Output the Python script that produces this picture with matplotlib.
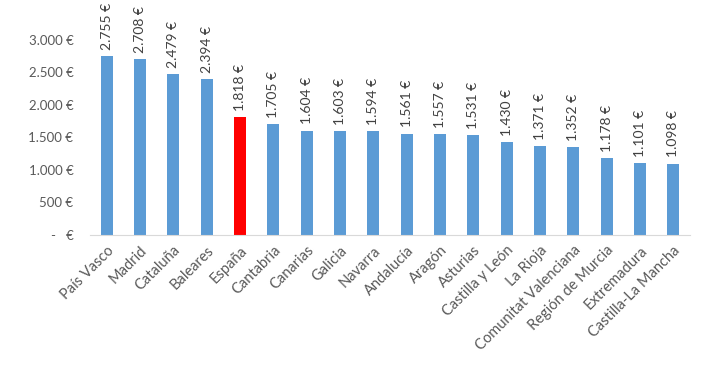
import matplotlib
matplotlib.use("Agg")
import matplotlib.pyplot as plt

regions = ["País Vasco", "Madrid", "Cataluña", "Baleares", "España", "Cantabria",
           "Canarias", "Galicia", "Navarra", "Andalucía", "Aragón", "Asturias",
           "Castilla y León", "La Rioja", "Comunitat Valenciana", "Región de Murcia",
           "Extremadura", "Castilla-La Mancha"]
values = [2755, 2708, 2479, 2394, 1818, 1705, 1604, 1603, 1594, 1561, 1557, 1531,
          1430, 1371, 1352, 1178, 1101, 1098]
yticks = [0, 500, 1000, 1500, 2000, 2500, 3000]
ytick_labels = ["-   €", "500 €", "1.000 €", "1.500 €", "2.000 €", "2.500 €", "3.000 €"]
highlight = "España"

plt.rcParams['font.family'] = ['Lato', 'DejaVu Sans']
txt = "#595959"

fig = plt.figure(figsize=(7.1, 3.66), dpi=100)
ax = fig.add_axes([0.1268, 0.358, 0.845, 0.6215])
x = list(range(len(regions)))
colors = ["#FF0000" if r == highlight else "#5B9BD5" for r in regions]
ax.bar(x, values, width=0.36, color=colors)
for xi, v in zip(x, values):
    s = f"{v:,}".replace(",", ".") + " €"
    ax.annotate(s, (xi, v), xytext=(0, 4.5), textcoords="offset points",
                rotation=90, ha="center", va="bottom", fontsize=10, color="#404040")
ax.set_xlim(-0.5, len(regions) - 0.5)
ax.set_ylim(0, 3500)
ax.set_yticks(yticks)
ax.set_yticklabels(ytick_labels, fontsize=9.5, color=txt)
ax.set_xticks(x)
ax.set_xticklabels(regions, rotation=45, ha="right", rotation_mode="anchor",
                   fontsize=10.5, color=txt)
for s in ["top", "right", "left"]:
    ax.spines[s].set_visible(False)
ax.spines["bottom"].set_color("#D9D9D9")
ax.tick_params(axis="both", length=0)
ax.tick_params(axis="y", pad=12)
ax.tick_params(axis="x", pad=6)
fig.savefig("out.png", dpi=100)
